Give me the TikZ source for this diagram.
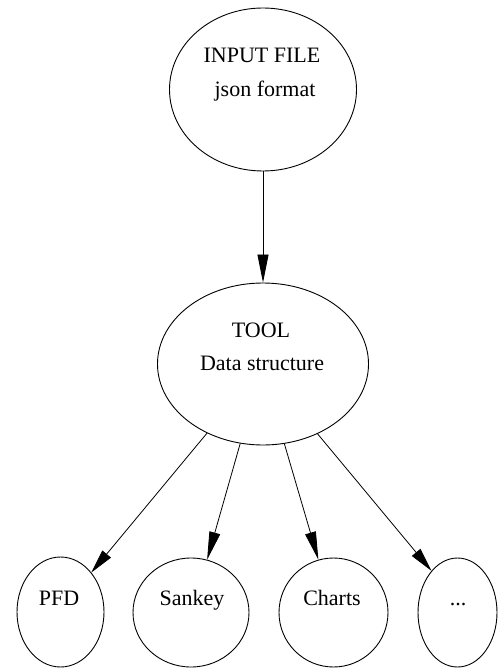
\documentclass[tikz,border=0pt]{standalone}
\usepackage{fontspec}
\setmainfont{Liberation Serif}
\usetikzlibrary{shapes.geometric,arrows.meta}
\tikzset{
  ell/.style={draw, ellipse, inner sep=0pt, line width=0.9pt},
  txt/.style={inner sep=0pt, anchor=base, font=\fontsize{22}{26}\selectfont},
  arr/.style={line width=0.8pt, -{Triangle[length=28pt,width=11pt]}},
}
\begin{document}
\begin{tikzpicture}[x=1pt,y=-1pt]
\useasboundingbox[fill=white] (0,0) rectangle (497,668);
% main nodes
\node[ell, minimum width=187pt, minimum height=163pt] (input) at (263,89.5) {};
\node[ell, minimum width=211pt, minimum height=162pt] (tool) at (263,364) {};
\node[ell, minimum width=87pt, minimum height=110pt] (pfd) at (60.5,612) {};
\node[ell, minimum width=116pt, minimum height=109pt] (sankey) at (191,612.5) {};
\node[ell, minimum width=109pt, minimum height=109pt] (charts) at (333.5,612.5) {};
\node[ell, minimum width=79pt, minimum height=109pt] (more) at (457.5,612.5) {};
% texts
\node[txt] (t1) at (262,63) {INPUT FILE};
\node[txt] (t2) at (265,97) {json format};
\node[txt] (t3) at (261,337) {TOOL};
\node[txt] (t4) at (262,370) {Data structure};
\node[txt] (t5) at (59,605) {PFD};
\node[txt] (t6) at (192,605) {Sankey};
\node[txt] (t7) at (332,605) {Charts};
\node[txt] (t8) at (458,605) {...};
% connectors
\draw[arr] (input.south) -- (tool.north);
\draw[arr, -{Triangle[length=24pt,width=11pt]}] (tool.231) -- (pfd.52);
\draw[arr] (tool.254.5) -- (sankey.73.6);
\draw[arr] (tool.285.5) -- (charts.106);
\draw[arr, -{Triangle[length=24pt,width=11pt]}] (tool.308) -- (more.122.5);
\end{tikzpicture}
\end{document}
